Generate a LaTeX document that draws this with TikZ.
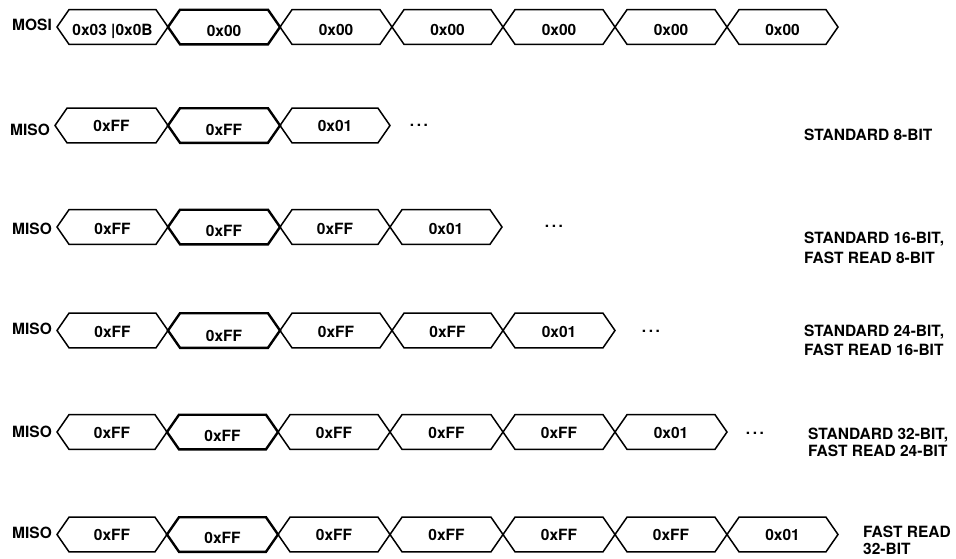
\documentclass[tikz,border=0pt]{standalone}
\usepackage{fontspec}
\setmainfont{TeX Gyre Heros}
\tikzset{
  sig/.style={line width=1.5pt, line join=miter},
  sigthick/.style={line width=2.4pt},
  txt/.style={font=\fontsize{15.5}{18}\selectfont\bfseries, inner sep=0pt, anchor=base},
  lbl/.style={txt, anchor=base west},
  dotsnode/.style={font=\fontsize{15.5}{18}\selectfont\bfseries, inner sep=0pt, anchor=center},
  note/.style={inner sep=0pt, anchor=north west, align=left},
}
\newcommand\hexcell[7]{%
  \draw[sig,#7] (#2,#4) -- ({#2+12},{#4-17.3}) -- ({#3-12},{#4-17.3}) -- (#3,#4)
     -- ({#3-12},{#4+17.3}) -- ({#2+12},{#4+17.3}) -- cycle;
  \node[txt] (#1) at ({(#2+#3)/2},#5) {#6};
}
\begin{document}
\begin{tikzpicture}[x=1pt,y=-1pt]
\useasboundingbox (0,0) rectangle (956,558);

% MOSI row
\node[lbl] (mosi) at (12,30) {MOSI};
\hexcell{m1}{57}{168}{27}{35}{0x03 |0x0B}{}
\hexcell{m3}{280}{392}{27}{35}{0x00}{}
\hexcell{m4}{392}{503}{27}{35}{0x00}{}
\hexcell{m5}{503}{615}{27}{35}{0x00}{}
\hexcell{m6}{615}{727}{27}{35}{0x00}{}
\hexcell{m7}{727}{838}{27}{35}{0x00}{}
\hexcell{m2}{168}{280}{27}{36}{0x00}{sigthick}

% Row 2
\node[lbl] (miso2) at (10,135) {MISO};
\hexcell{a1}{55}{168}{125.5}{131.5}{0xFF}{}
\hexcell{a3}{280}{390}{125.5}{131.5}{0x01}{}
\hexcell{a2}{168}{280}{125.5}{135}{0xFF}{sigthick}
\node[dotsnode] (ad) at (419,125) {.\,.\,.};
\node[note, font=\fontsize{15.5}{18}\selectfont\bfseries] (n2) at (804,129.3) {STANDARD 8-BIT};

% Row 3
\node[lbl] (miso3) at (12,234) {MISO};
\hexcell{b1}{57}{168}{227}{234}{0xFF}{}
\hexcell{b3}{280}{390}{227}{234.5}{0xFF}{}
\hexcell{b4}{390}{502}{227}{234.5}{0x01}{}
\hexcell{b2}{168}{280}{227}{236.5}{0xFF}{sigthick}
\node[dotsnode] (bd) at (554,226) {.\,.\,.};
\node[note, font=\fontsize{15.5}{20}\selectfont\bfseries] (n3) at (804,231.7) {STANDARD 16-BIT,\\FAST READ 8-BIT};

% Row 4
\node[lbl] (miso4) at (12,334) {MISO};
\hexcell{c1}{57}{168}{330.5}{337}{0xFF}{}
\hexcell{c3}{280}{392}{330.5}{337}{0xFF}{}
\hexcell{c4}{392}{503}{330.5}{337}{0xFF}{}
\hexcell{c5}{503}{615}{330.5}{337}{0x01}{}
\hexcell{c2}{168}{280}{330.5}{341}{0xFF}{sigthick}
\node[dotsnode] (cd) at (651,331) {.\,.\,.};
\node[note, font=\fontsize{15.5}{18.5}\selectfont\bfseries] (n4) at (804,325) {STANDARD 24-BIT,\\FAST READ 16-BIT};

% Row 5
\node[lbl] (miso5) at (12,437) {MISO};
\hexcell{d1}{57}{167}{432}{438}{0xFF}{}
\hexcell{d3}{278}{390}{432}{438}{0xFF}{}
\hexcell{d4}{390}{503}{432}{438}{0xFF}{}
\hexcell{d5}{503}{615}{432}{438}{0xFF}{}
\hexcell{d6}{615}{727}{432}{438}{0x01}{}
\hexcell{d2}{167}{278}{432}{441.5}{0xFF}{sigthick}
\node[dotsnode] (dd) at (755,433) {.\,.\,.};
\node[note, font=\fontsize{15.5}{17}\selectfont\bfseries] (n5) at (808,428) {STANDARD 32-BIT,\\FAST READ 24-BIT};

% Row 6
\node[lbl] (miso6) at (12,538) {MISO};
\hexcell{e1}{57}{167}{534.5}{540.5}{0xFF}{}
\hexcell{e3}{278}{390}{534.5}{540.5}{0xFF}{}
\hexcell{e4}{390}{503}{534.5}{540.5}{0xFF}{}
\hexcell{e5}{503}{615}{534.5}{540.5}{0xFF}{}
\hexcell{e6}{615}{727}{534.5}{540.5}{0xFF}{}
\hexcell{e7}{727}{838}{534.5}{540.5}{0x01}{}
\hexcell{e2}{167}{278}{534.5}{543}{0xFF}{sigthick}
\node[note, font=\fontsize{15.5}{16.5}\selectfont\bfseries] (n6) at (863,526) {FAST READ\\32-BIT};
\end{tikzpicture}
\end{document}
